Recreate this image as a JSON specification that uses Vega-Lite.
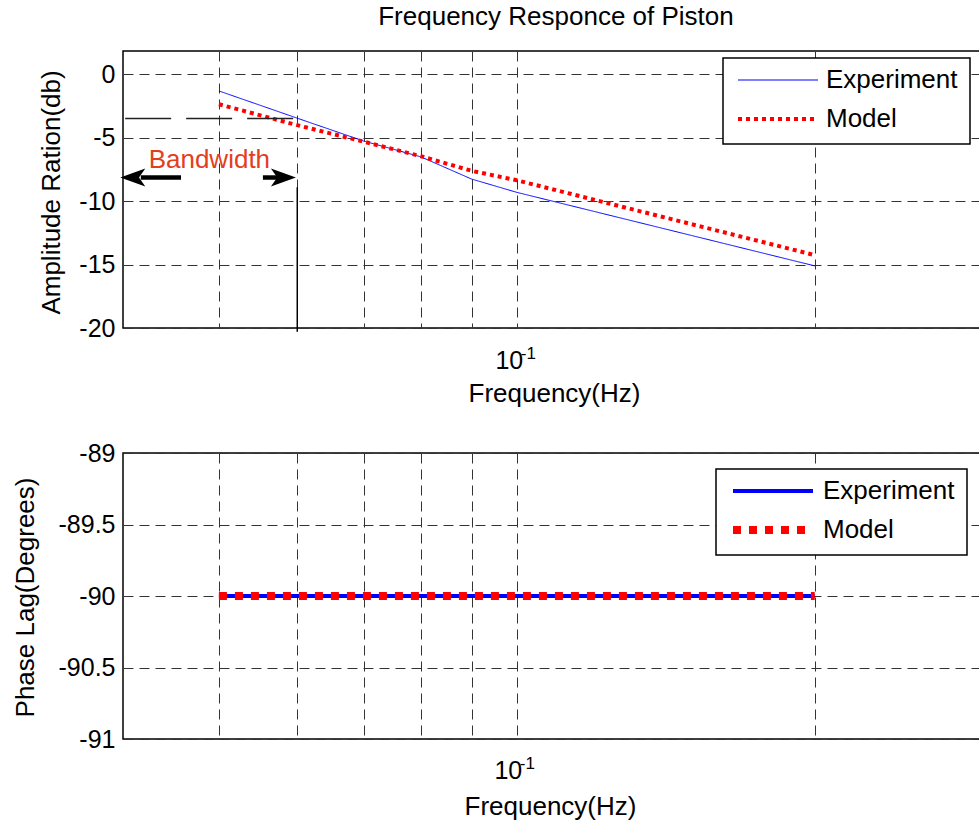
{
  "$schema": "https://vega.github.io/schema/vega-lite/v6.json",
  "padding": {"left": 11, "top": 3, "right": 0, "bottom": 0},
  "spacing": 33,
  "resolve": {
    "scale": {"color": "independent", "strokeDash": "independent", "strokeWidth": "independent", "shape": "independent"},
    "legend": {"color": "independent", "strokeDash": "independent", "strokeWidth": "independent"}
  },
  "config": {
    "font": "Liberation Sans",
    "view": {"stroke": "black", "strokeWidth": 1.5},
    "axis": {
      "labelFont": "Liberation Sans", "labelFontSize": 25, "labelColor": "black",
      "titleFont": "Liberation Sans", "titleFontSize": 26, "titleFontWeight": "normal", "titleColor": "black",
      "ticks": false, "domain": false,
      "gridColor": "#333333", "gridDash": [10, 6], "gridWidth": 1, "gridOpacity": 1,
      "labelPadding": 8
    },
    "legend": {
      "title": null, "orient": "none",
      "symbolType": "stroke", "symbolSize": 6400,
      "labelFont": "Liberation Sans", "labelFontSize": 26, "labelColor": "black",
      "strokeColor": "black", "strokeWidth": 1.5, "fillColor": "white",
      "padding": 12, "clipHeight": 20, "rowPadding": 13, "labelOffset": 6, "symbolOffset": 1
    }
  },
  "datasets": {
    "amp": [
      {"series": "Experiment", "f": 0.05, "v": -1.3},
      {"series": "Experiment", "f": 0.06, "v": -3.45},
      {"series": "Experiment", "f": 0.07, "v": -5.25},
      {"series": "Experiment", "f": 0.08, "v": -6.5},
      {"series": "Experiment", "f": 0.09, "v": -8.25},
      {"series": "Experiment", "f": 0.1, "v": -9.3},
      {"series": "Experiment", "f": 0.2, "v": -15.1},
      {"series": "Model", "f": 0.05, "v": -2.35},
      {"series": "Model", "f": 0.06, "v": -4.0},
      {"series": "Model", "f": 0.07, "v": -5.3},
      {"series": "Model", "f": 0.08, "v": -6.45},
      {"series": "Model", "f": 0.09, "v": -7.6},
      {"series": "Model", "f": 0.1, "v": -8.35},
      {"series": "Model", "f": 0.2, "v": -14.25}
    ],
    "phase": [
      {"series": "Experiment", "f": 0.05, "v": -90},
      {"series": "Experiment", "f": 0.06, "v": -90},
      {"series": "Experiment", "f": 0.07, "v": -90},
      {"series": "Experiment", "f": 0.08, "v": -90},
      {"series": "Experiment", "f": 0.09, "v": -90},
      {"series": "Experiment", "f": 0.1, "v": -90},
      {"series": "Experiment", "f": 0.2, "v": -90},
      {"series": "Model", "f": 0.05, "v": -90},
      {"series": "Model", "f": 0.06, "v": -90},
      {"series": "Model", "f": 0.07, "v": -90},
      {"series": "Model", "f": 0.08, "v": -90},
      {"series": "Model", "f": 0.09, "v": -90},
      {"series": "Model", "f": 0.1, "v": -90},
      {"series": "Model", "f": 0.2, "v": -90}
    ],
    "cutoff": [{"f": 0.0402, "f2": 0.0598, "v": -3.47}],
    "vline": [{"f": 0.06, "v": -8.9, "v2": -20.3}],
    "shafts": [
      {"f": 0.04169, "f2": 0.04578, "v": -8.13},
      {"f": 0.05539, "f2": 0.05844, "v": -8.13}
    ],
    "heads": [
      {"f": 0.04092, "v": -8.13, "dir": "left"},
      {"f": 0.0581, "v": -8.13, "dir": "right"}
    ],
    "note": [{"f": 0.0489, "v": -7.35, "text": "Bandwidth"}]
  },
  "vconcat": [
    {
      "width": 866,
      "height": 277,
      "title": {"text": "Frequency Responce of Piston", "fontSize": 26, "fontWeight": "normal", "color": "black", "anchor": "middle", "baseline": "alphabetic", "offset": 0},
      "resolve": {"axis": {"x": "independent"}},
      "layer": [
        {
          "data": {"name": "amp"},
          "mark": {"type": "line"},
          "encoding": {
            "x": {"field": "f", "type": "quantitative",
              "scale": {"type": "log", "domain": [0.04, 0.3], "nice": false},
              "axis": {"orient": "bottom", "values": [0.05, 0.06, 0.07, 0.08, 0.09, 0.1, 0.2], "grid": true,
                "labelExpr": "datum.value == 0.1 ? '10' : ''", "labelBaseline": "alphabetic", "labelPadding": 40, "labelOffset": -8,
                "labelOverlap": false, "labelFlush": false,
                "title": "Frequency(Hz)", "titleX": 431, "titleY": 73, "titleBaseline": "alphabetic"}},
            "y": {"field": "v", "type": "quantitative",
              "scale": {"domain": [-20, 1.85], "nice": false, "zero": false},
              "axis": {"values": [-20, -15, -10, -5, 0], "grid": true, "labelExpr": "toString(datum.value)",
                "title": "Amplitude Ration(db)", "titleX": -64, "titleY": 141, "titleBaseline": "alphabetic"}},
            "color": {"field": "series", "type": "nominal",
              "scale": {"domain": ["Experiment", "Model"], "range": ["#0000ff", "#ff0000"]},
              "legend": {"legendX": 600, "legendY": 7}},
            "strokeDash": {"field": "series", "type": "nominal",
              "scale": {"domain": ["Experiment", "Model"], "range": [[1, 0], [4, 4]]},
              "legend": {"legendX": 600, "legendY": 7}},
            "strokeWidth": {"field": "series", "type": "nominal",
              "scale": {"domain": ["Experiment", "Model"], "range": [1, 4]},
              "legend": {"legendX": 600, "legendY": 7}}
          }
        },
        {
          "layer": [
            {
              "data": {"name": "cutoff"},
              "mark": {"type": "rule", "color": "#222222", "strokeWidth": 1.5, "strokeDash": [46, 15]},
              "encoding": {
                "x": {"field": "f", "type": "quantitative"},
                "x2": {"field": "f2"},
                "y": {"field": "v", "type": "quantitative"}
              }
            },
            {
              "data": {"name": "vline"},
              "mark": {"type": "rule", "color": "black", "strokeWidth": 1.5},
              "encoding": {
                "x": {"field": "f", "type": "quantitative"},
                "y": {"field": "v", "type": "quantitative"},
                "y2": {"field": "v2"}
              }
            },
            {
              "data": {"name": "shafts"},
              "mark": {"type": "rule", "color": "black", "strokeWidth": 4.5},
              "encoding": {
                "x": {"field": "f", "type": "quantitative"},
                "x2": {"field": "f2"},
                "y": {"field": "v", "type": "quantitative"}
              }
            },
            {
              "data": {"name": "heads"},
              "mark": {"type": "point", "filled": true, "color": "black", "opacity": 1, "size": 625},
              "encoding": {
                "x": {"field": "f", "type": "quantitative"},
                "y": {"field": "v", "type": "quantitative"},
                "shape": {"field": "dir", "type": "nominal", "legend": null,
                  "scale": {"domain": ["left", "right"], "range": ["M -1 0 L 1 -0.72 L 0.5 0 L 1 0.72 Z", "M 1 0 L -1 -0.72 L -0.5 0 L -1 0.72 Z"]}}
              }
            },
            {
              "data": {"name": "note"},
              "mark": {"type": "text", "color": "#e2401c", "fontSize": 26, "align": "center", "baseline": "alphabetic"},
              "encoding": {
                "x": {"field": "f", "type": "quantitative",
                  "axis": {"orient": "bottom", "values": [0.1], "grid": false, "labelExpr": "'-1'", "labelFontSize": 17,
                    "labelBaseline": "alphabetic", "labelPadding": 30, "labelOffset": 11, "labelOverlap": false, "labelFlush": false, "title": null}},
                "y": {"field": "v", "type": "quantitative"},
                "text": {"field": "text"}
              }
            }
          ]
        }
      ]
    },
    {
      "width": 866,
      "height": 286,
      "resolve": {"axis": {"x": "independent"}},
      "layer": [
        {
          "data": {"name": "phase"},
          "mark": {"type": "line"},
          "encoding": {
            "x": {"field": "f", "type": "quantitative",
              "scale": {"type": "log", "domain": [0.04, 0.3], "nice": false},
              "axis": {"orient": "bottom", "values": [0.05, 0.06, 0.07, 0.08, 0.09, 0.1, 0.2], "grid": true,
                "labelExpr": "datum.value == 0.1 ? '10' : ''", "labelBaseline": "alphabetic", "labelPadding": 39, "labelOffset": -9,
                "labelOverlap": false, "labelFlush": false,
                "title": "Frequency(Hz)", "titleX": 427, "titleY": 75, "titleBaseline": "alphabetic"}},
            "y": {"field": "v", "type": "quantitative",
              "scale": {"domain": [-91, -89], "nice": false, "zero": false},
              "axis": {"values": [-91, -90.5, -90, -89.5, -89], "grid": true, "labelExpr": "toString(datum.value)",
                "title": "Phase Lag(Degrees)", "titleX": -90, "titleY": 144, "titleBaseline": "alphabetic"}},
            "color": {"field": "series", "type": "nominal",
              "scale": {"domain": ["Experiment", "Model"], "range": ["#0000ff", "#ff0000"]},
              "legend": {"legendX": 593, "legendY": 16}},
            "strokeDash": {"field": "series", "type": "nominal",
              "scale": {"domain": ["Experiment", "Model"], "range": [[1, 0], [8, 8]]},
              "legend": {"legendX": 593, "legendY": 16}},
            "strokeWidth": {"field": "series", "type": "nominal",
              "scale": {"domain": ["Experiment", "Model"], "range": [4, 8]},
              "legend": {"legendX": 593, "legendY": 16}}
          }
        },
        {
          "data": {"name": "phase"},
          "mark": {"type": "point", "opacity": 0},
          "encoding": {
            "x": {"field": "f", "type": "quantitative",
              "axis": {"orient": "bottom", "values": [0.1], "grid": false, "labelExpr": "'-1'", "labelFontSize": 17,
                "labelBaseline": "alphabetic", "labelPadding": 29, "labelOffset": 10, "labelOverlap": false, "labelFlush": false, "title": null}},
            "y": {"field": "v", "type": "quantitative"}
          }
        }
      ]
    }
  ]
}
